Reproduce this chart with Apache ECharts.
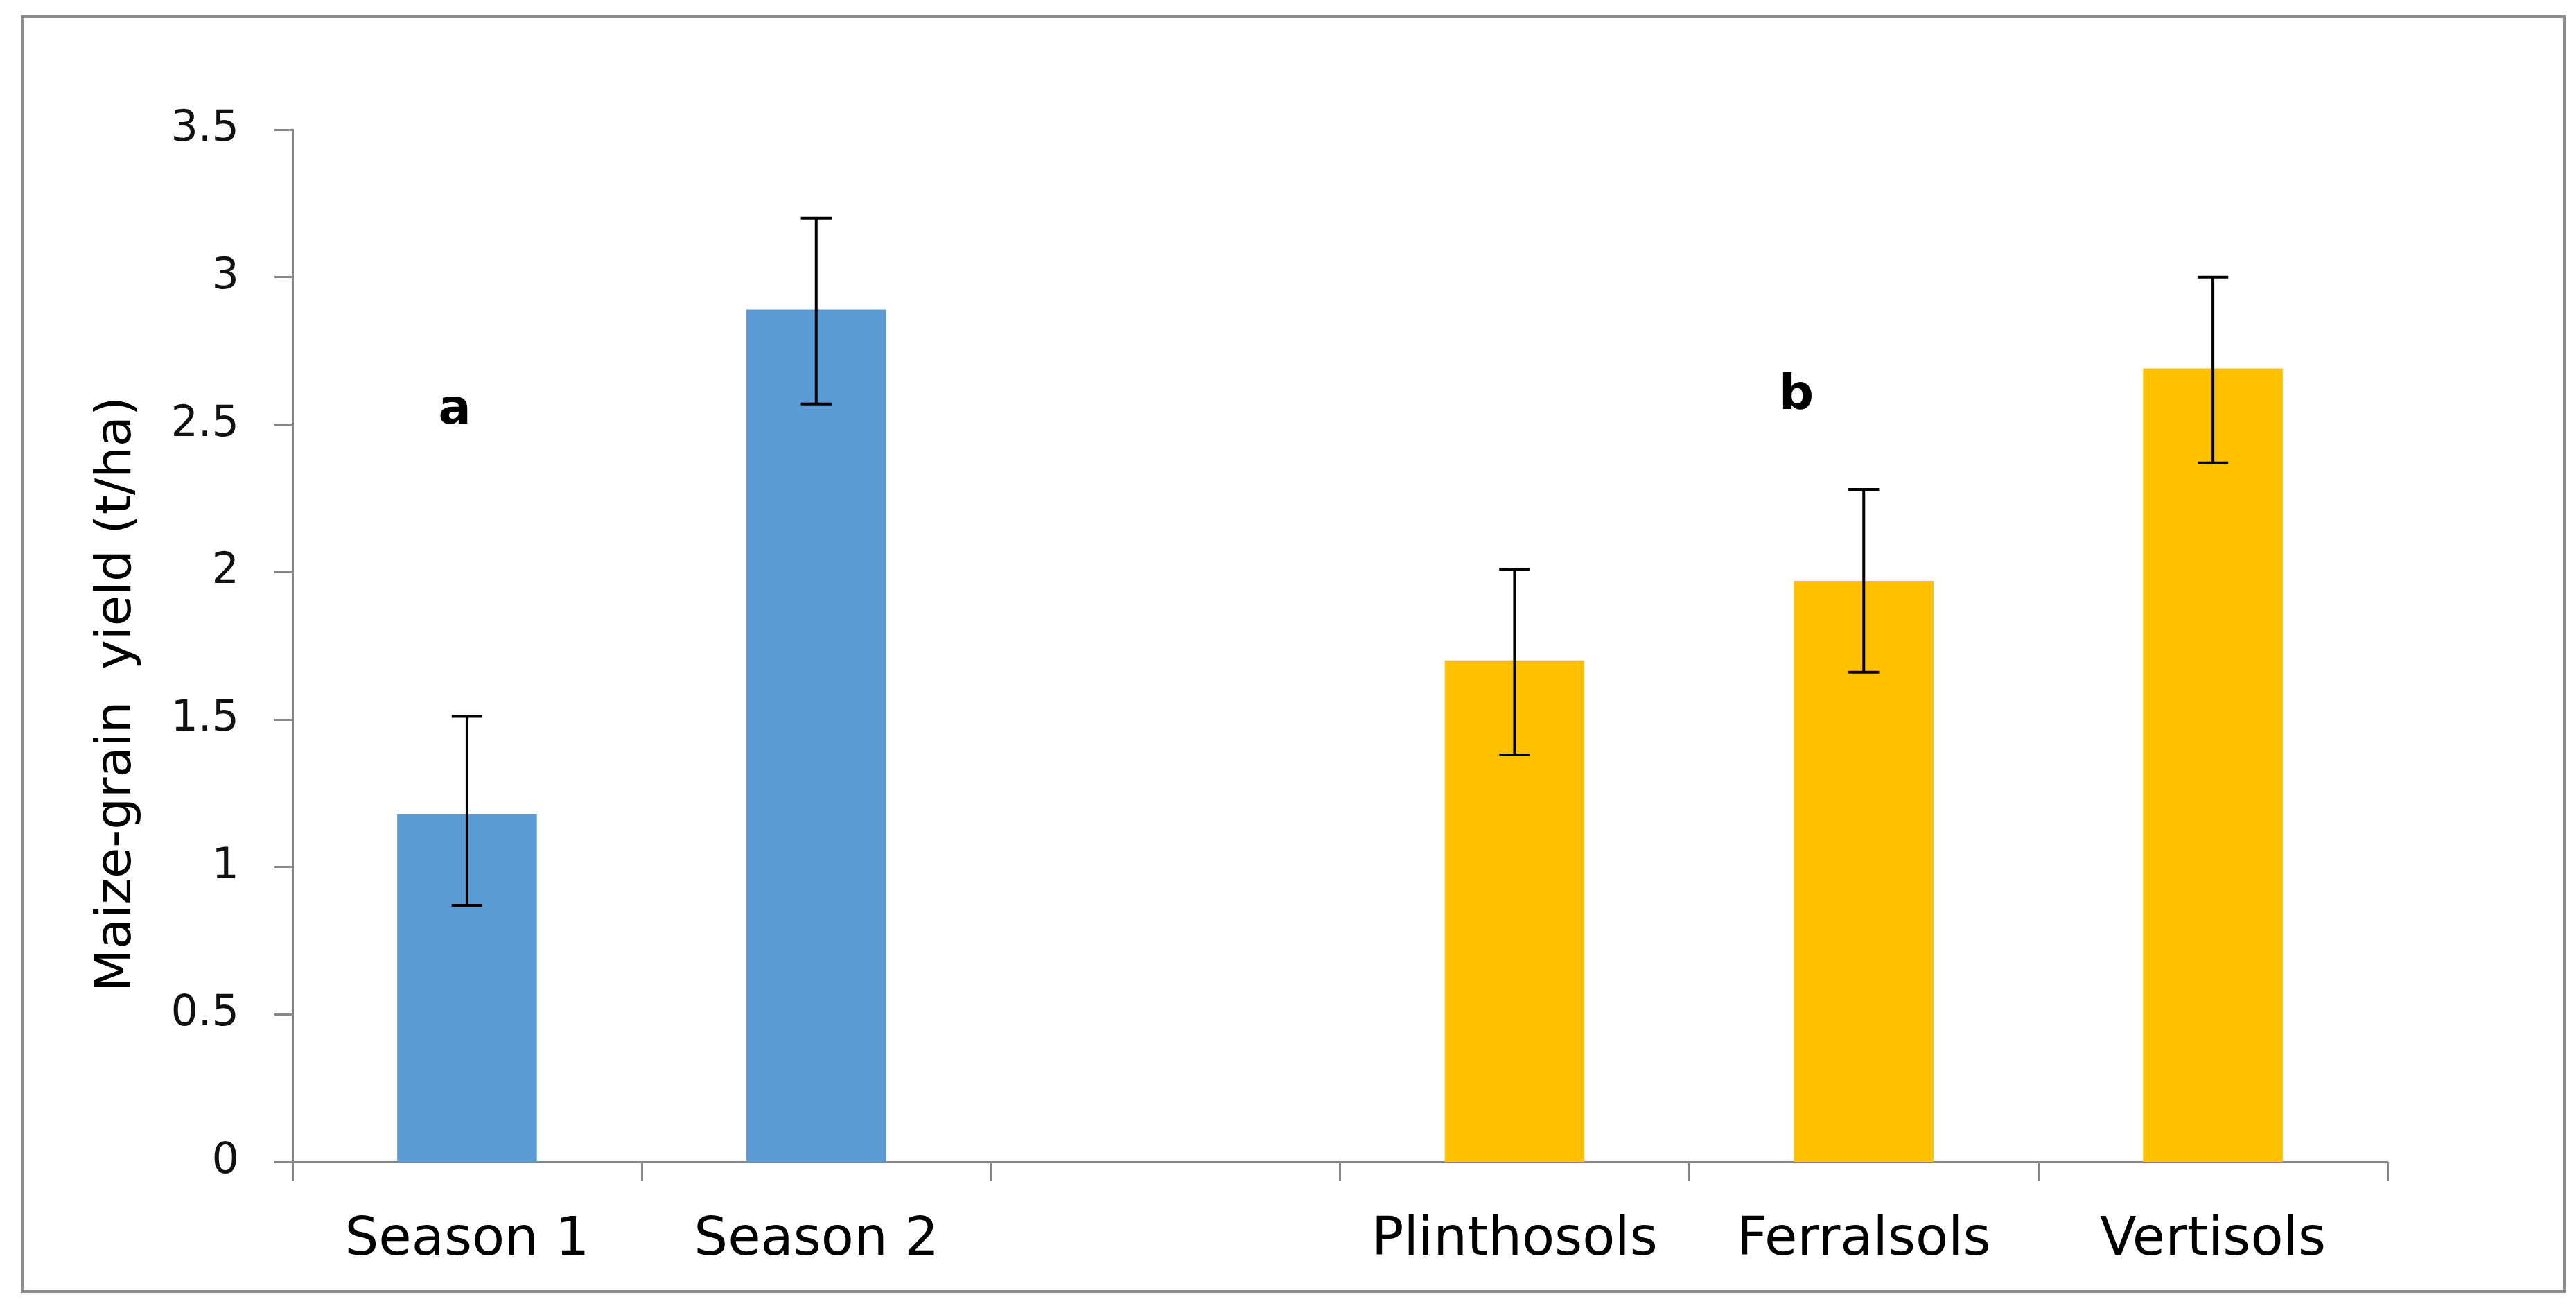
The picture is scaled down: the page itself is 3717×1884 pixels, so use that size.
<!DOCTYPE html>
<html>
<head>
<meta charset="utf-8">
<script src="https://cdn.jsdelivr.net/npm/echarts@6/dist/echarts.min.js"></script>
<style>
  html, body { margin: 0; padding: 0; background: #ffffff; }
  #chart { width: 3717px; height: 1884px; }
</style>
</head>
<body>
<div id="chart"></div>
<script>
// ---- data ----
const categories = ['Season 1', 'Season 2', '', 'Plinthosols', 'Ferralsols', 'Vertisols'];
const groups     = ['Season', 'Season', '', 'Soil', 'Soil', 'Soil'];
const yields     = [1.18, 2.89, null, 1.70, 1.97, 2.69];
const errLow     = [0.87, 2.57, null, 1.38, 1.66, 2.37];
const errHigh    = [1.51, 3.20, null, 2.01, 2.28, 3.00];
const yTicks     = { min: 0, max: 3.5, interval: 0.5 };
const yTitle     = 'Maize-grain  yield (t/ha)';
const panelLetters = ['a', 'b'];

// ---- build ----
const FONT = '"DejaVu Sans", Verdana, sans-serif';
const AXIS_GRAY = '#868686';
const groupColor = { Season: '#5B9BD5', Soil: '#FFC000' };

const errData = [];
categories.forEach((c, i) => {
  if (errLow[i] != null && errHigh[i] != null) errData.push([i, errLow[i], errHigh[i]]);
});

const chart = echarts.init(document.getElementById('chart'), null, { renderer: 'canvas' });

chart.setOption({
  animation: false,
  backgroundColor: '#ffffff',
  grid: { left: 422, right: 272, top: 187, bottom: 208, containLabel: false },
  xAxis: {
    type: 'category',
    data: categories,
    boundaryGap: true,
    axisLine: { show: true, lineStyle: { color: AXIS_GRAY, width: 3 } },
    axisTick: { show: true, alignWithLabel: false, length: 28, lineStyle: { color: AXIS_GRAY, width: 3 } },
    axisLabel: { interval: 0, margin: 75, color: '#000', fontSize: 77, fontFamily: FONT },
    splitLine: { show: false }
  },
  yAxis: {
    type: 'value',
    min: yTicks.min, max: yTicks.max, interval: yTicks.interval,
    name: yTitle,
    nameLocation: 'middle',
    nameGap: 217,
    nameTextStyle: { color: '#000', fontSize: 72, fontFamily: FONT, padding: [0, 140, 0, 0] },
    axisLine: { show: true, lineStyle: { color: AXIS_GRAY, width: 3 } },
    axisTick: { show: true, length: 26, lineStyle: { color: AXIS_GRAY, width: 3 } },
    axisLabel: { margin: 77, color: '#111', fontSize: 62, fontFamily: FONT },
    splitLine: { show: false }
  },
  series: [
    {
      type: 'bar',
      data: yields,
      barWidth: '40%',
      itemStyle: { color: p => groupColor[groups[p.dataIndex]] || '#999' }
    },
    {
      type: 'custom',
      data: errData,
      z: 10,
      renderItem: function (params, api) {
        const i = api.value(0);
        const lo = api.coord([i, api.value(1)]);
        const hi = api.coord([i, api.value(2)]);
        const half = api.size([1, 0])[0] * 0.044;
        const style = { stroke: '#000', lineWidth: 4 };
        return {
          type: 'group',
          children: [
            { type: 'line', shape: { x1: lo[0], y1: lo[1], x2: hi[0], y2: hi[1] }, style },
            { type: 'line', shape: { x1: hi[0] - half, y1: hi[1], x2: hi[0] + half, y2: hi[1] }, style },
            { type: 'line', shape: { x1: lo[0] - half, y1: lo[1], x2: lo[0] + half, y2: lo[1] }, style }
          ]
        };
      }
    }
  ],
  graphic: [
    { type: 'rect', shape: { x: 32, y: 24, width: 3668, height: 1839 },
      style: { fill: 'none', stroke: '#8c8c8c', lineWidth: 4 }, silent: true },
    { type: 'text', x: 656, y: 593,
      style: { text: panelLetters[0], font: 'bold 70px "DejaVu Sans", Verdana, sans-serif', fill: '#000', textAlign: 'center', textVerticalAlign: 'middle' } },
    { type: 'text', x: 2592, y: 572,
      style: { text: panelLetters[1], font: 'bold 70px "DejaVu Sans", Verdana, sans-serif', fill: '#000', textAlign: 'center', textVerticalAlign: 'middle' } }
  ]
});
</script>
</body>
</html>
